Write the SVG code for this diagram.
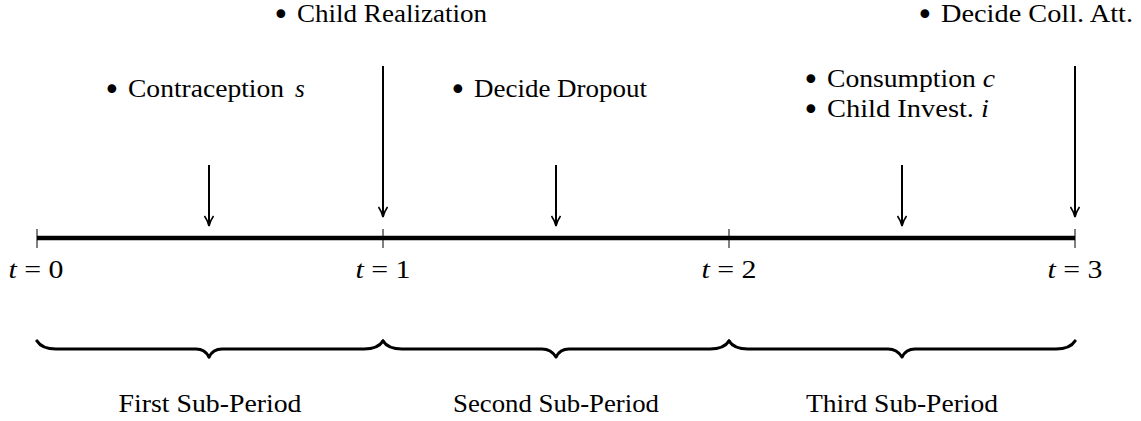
<svg xmlns="http://www.w3.org/2000/svg" width="1141" height="421" viewBox="0 0 1141 421">
<defs>
<style>
.t{font-family:"Liberation Serif","Times New Roman",serif;font-size:25px;fill:#000}
.b{font-family:"DejaVu Sans",sans-serif;font-size:30px}
.m{font-style:italic}
.ax{stroke:#000;stroke-width:4.5;fill:none}
.tk{stroke:#000;stroke-width:1;fill:none}
.ar{stroke:#000;stroke-width:2;fill:none}
.br{stroke:#000;stroke-width:3.2;fill:none;stroke-linecap:round;stroke-linejoin:round}
</style>
<marker id="ah" viewBox="0 0 12 10" refX="11" refY="5" markerWidth="12" markerHeight="10" markerUnits="userSpaceOnUse" orient="auto">
<path d="M1,0.5 Q6,4 11,5 Q6,6 1,9.5" fill="none" stroke="#000" stroke-width="1.6"/>
</marker>
</defs>
<rect width="1141" height="421" fill="#fff"/>
<g id="axis">
<line class="ax" x1="37" y1="238" x2="1075" y2="238"/>
<line class="tk" x1="37" y1="229" x2="37" y2="248"/>
<line class="tk" x1="383" y1="229" x2="383" y2="248"/>
<line class="tk" x1="729" y1="229" x2="729" y2="248"/>
<line class="tk" x1="1075" y1="229" x2="1075" y2="248"/>
</g>
<g id="connectors">
<line class="ar" x1="209" y1="165" x2="209" y2="226" marker-end="url(#ah)"/>
<line class="ar" x1="383" y1="66" x2="383" y2="217" marker-end="url(#ah)"/>
<line class="ar" x1="556" y1="165" x2="556" y2="226" marker-end="url(#ah)"/>
<line class="ar" x1="902" y1="165" x2="902" y2="226" marker-end="url(#ah)"/>
<line class="ar" x1="1075" y1="66" x2="1075" y2="217" marker-end="url(#ah)"/>
</g>
<g id="tlabels">
<text class="t" x="36" y="278" text-anchor="middle" textLength="55" lengthAdjust="spacingAndGlyphs"><tspan class="m">t</tspan> = 0</text>
<text class="t" x="383" y="278" text-anchor="middle" textLength="55" lengthAdjust="spacingAndGlyphs"><tspan class="m">t</tspan> = 1</text>
<text class="t" x="729" y="278" text-anchor="middle" textLength="55" lengthAdjust="spacingAndGlyphs"><tspan class="m">t</tspan> = 2</text>
<text class="t" x="1075" y="278" text-anchor="middle" textLength="55" lengthAdjust="spacingAndGlyphs"><tspan class="m">t</tspan> = 3</text>
</g>
<g id="event-contraception">
<text class="t" x="103" y="97"><tspan class="b" dy="3">•</tspan></text>
<text class="t" x="128" y="97" textLength="156" lengthAdjust="spacingAndGlyphs">Contraception</text>
<text class="t m" x="295" y="97">s</text>
</g>
<g id="event-child-realization">
<text class="t" x="272" y="22"><tspan class="b" dy="3">•</tspan></text>
<text class="t" x="297" y="22" textLength="190" lengthAdjust="spacingAndGlyphs">Child Realization</text>
</g>
<g id="event-dropout">
<text class="t" x="449" y="97"><tspan class="b" dy="3">•</tspan></text>
<text class="t" x="474" y="97" textLength="173" lengthAdjust="spacingAndGlyphs">Decide Dropout</text>
</g>
<g id="event-consumption">
<text class="t" x="802" y="87"><tspan class="b" dy="3">•</tspan></text>
<text class="t" x="827" y="87" textLength="168" lengthAdjust="spacingAndGlyphs">Consumption <tspan class="m">c</tspan></text>
<text class="t" x="802" y="117"><tspan class="b" dy="3">•</tspan></text>
<text class="t" x="827" y="117" textLength="162" lengthAdjust="spacingAndGlyphs">Child Invest.  <tspan class="m">i</tspan></text>
</g>
<g id="event-college">
<text class="t" x="916" y="22"><tspan class="b" dy="3">•</tspan></text>
<text class="t" x="941" y="22" textLength="192" lengthAdjust="spacingAndGlyphs">Decide Coll.  Att.</text>
</g>
<g id="brace1"><path class="br" d="M37,341 Q42,349 56,349 L196,349 Q205,349 209,357 Q213,349 222,349 L364,349 Q378,349 383,341"/><text class="t" x="210" y="412" text-anchor="middle" textLength="183" lengthAdjust="spacingAndGlyphs">First Sub-Period</text></g>
<g id="brace2"><path class="br" d="M383,341 Q388,349 402,349 L542,349 Q551,349 556,357 Q560,349 569,349 L710,349 Q724,349 729,341"/><text class="t" x="556" y="412" text-anchor="middle" textLength="206" lengthAdjust="spacingAndGlyphs">Second Sub-Period</text></g>
<g id="brace3"><path class="br" d="M729,341 Q734,349 748,349 L888,349 Q897,349 902,357 Q906,349 915,349 L1056,349 Q1070,349 1075,341"/><text class="t" x="902" y="412" text-anchor="middle" textLength="192" lengthAdjust="spacingAndGlyphs">Third Sub-Period</text></g>
</svg>
